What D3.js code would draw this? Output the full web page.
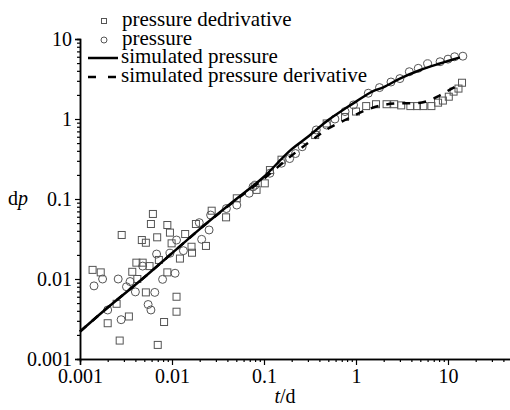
<!DOCTYPE html>
<html>
<head>
<meta charset="utf-8">
<script src="https://cdn.jsdelivr.net/npm/d3@7"></script>
<style>
  body { margin: 0; background: #fff; }
  svg text { font-family: "Liberation Serif", Tinos, "Times New Roman", Times, "DejaVu Serif", serif; fill: #000; }
</style>
</head>
<body>
<div id="chart"></div>
<script>
// simulated curves
var simTime = [0.001, 0.002, 0.005, 0.01, 0.02, 0.05, 0.1, 0.2, 0.3, 0.5, 0.8, 1, 1.5, 2, 3, 5, 8, 10, 13.5];
var simPressure = [0.0022, 0.0044, 0.0105, 0.021, 0.042, 0.1, 0.19, 0.42, 0.6, 0.97, 1.4, 1.65, 2.2, 2.5, 3.2, 4.1, 4.9, 5.3, 5.9];
var simDerivTime = [0.001, 0.002, 0.005, 0.01, 0.02, 0.05, 0.1, 0.2, 0.3, 0.5, 0.8, 1.3, 2, 3, 4.5, 6, 8, 11, 12.5];
var simDerivative = [0.0022, 0.0044, 0.0105, 0.021, 0.042, 0.098, 0.18, 0.35, 0.5, 0.76, 1.0, 1.3, 1.5, 1.57, 1.58, 1.68, 1.95, 2.4, 2.6];

// measured pressure (circles)
var presTime = [0.00142, 0.00176, 0.0026, 0.0035, 0.0032, 0.0040, 0.0065, 0.0055, 0.0059, 0.0028, 0.002,
  0.0079, 0.0108, 0.0068, 0.0095, 0.0112, 0.0133, 0.0198, 0.021, 0.0253, 0.0263, 0.0048, 0.039, 0.0506,
  0.069, 0.076, 0.08, 0.116, 0.155, 0.19, 0.22, 0.26, 0.37, 0.48, 0.59, 0.76, 0.94, 1.36, 1.8, 2.4, 3.0,
  3.8, 4.75, 6.0, 8.2, 10, 11.8, 14.5];
var presValue = [0.0082, 0.01, 0.01, 0.0093, 0.008, 0.0069, 0.0068, 0.0048, 0.0041, 0.0031, 0.0041,
  0.0099, 0.0118, 0.0205, 0.021, 0.0307, 0.0226, 0.0506, 0.0313, 0.041, 0.063, 0.0145, 0.076, 0.084,
  0.118, 0.142, 0.149, 0.21, 0.28, 0.32, 0.37, 0.45, 0.73, 0.84, 1.0, 1.24, 1.5, 2.1, 2.47, 2.9, 3.2,
  3.9, 4.3, 4.9, 5.2, 5.6, 6.0, 6.1];

// measured pressure derivative (squares)
var derivTime = [0.00137, 0.00168, 0.00284, 0.0062, 0.0059, 0.0089, 0.0095, 0.0047, 0.0052, 0.0069,
  0.0099, 0.0139, 0.0182, 0.027, 0.0387, 0.0506, 0.0122, 0.0165, 0.0163, 0.0234, 0.0072, 0.0041, 0.0048,
  0.0037, 0.0057, 0.0042, 0.0052, 0.0089, 0.0112, 0.0112, 0.0082, 0.0034, 0.002, 0.0027, 0.007, 0.0025,
  0.083, 0.102, 0.116, 0.155, 0.36, 0.48, 0.76, 1.0, 1.29, 1.65, 2.15, 2.6, 3.1, 3.9, 4.6, 5.4, 6.6,
  7.8, 8.8, 10.2, 11.5, 13, 14.2];
var derivValue = [0.013, 0.0121, 0.0355, 0.065, 0.0487, 0.0473, 0.038, 0.0307, 0.0284, 0.0332,
  0.0279, 0.0365, 0.0487, 0.0714, 0.059, 0.102, 0.018, 0.0213, 0.0253, 0.0259, 0.0173, 0.016, 0.016,
  0.0123, 0.0145, 0.01, 0.0068, 0.0121, 0.006, 0.0039, 0.0029, 0.0034, 0.0028, 0.0017, 0.0015, 0.0049,
  0.13, 0.157, 0.23, 0.31, 0.63, 0.88, 1.06, 1.24, 1.45, 1.53, 1.53, 1.53, 1.48, 1.45, 1.45, 1.45, 1.45,
  1.6, 1.7, 1.9, 2.2, 2.4, 2.84];

var xTicks = [0.001, 0.01, 0.1, 1, 10];
var xTickLabels = ["0.001", "0.01", "0.1", "1", "10"];
var yTicks = [0.001, 0.01, 0.1, 1, 10];
var yTickLabels = ["0.001", "0.01", "0.1", "1", "10"];

var legendLabels = ["pressure dedrivative", "pressure", "simulated pressure", "simulated pressure derivative"];

var width = 510, height = 410;
var serif = "'Liberation Serif', Tinos, 'Times New Roman', Times, 'DejaVu Serif', serif";

var svg = d3.select("#chart").append("svg")
    .attr("width", width)
    .attr("height", height)
    .attr("font-family", serif);

var x = d3.scaleLog().domain([0.001, 100]).range([80, 540]);
var y = d3.scaleLog().domain([0.001, 10]).range([359, 39]);

function minorTicks(scale) {
    var out = [];
    var d = scale.domain();
    for (var e = Math.round(Math.log10(d[0])); e < Math.round(Math.log10(d[1])); e++) {
        for (var k = 2; k <= 9; k++) out.push(k * Math.pow(10, e));
    }
    return out;
}

// x axis
svg.append("g")
    .attr("transform", "translate(0,359)")
    .call(d3.axisBottom(x).tickValues(minorTicks(x)).tickSize(3).tickFormat(""));
svg.append("g")
    .attr("transform", "translate(0,359)")
    .call(d3.axisBottom(x).tickValues(xTicks).tickSize(6).tickPadding(4)
        .tickFormat(function(d, i) { return xTickLabels[i]; }));

// y axis
svg.append("g")
    .attr("transform", "translate(80,0)")
    .call(d3.axisLeft(y).tickValues(minorTicks(y)).tickSize(3).tickFormat(""));
svg.append("g")
    .attr("transform", "translate(80,0)")
    .call(d3.axisLeft(y).tickValues(yTicks).tickSize(5).tickPadding(3)
        .tickFormat(function(d, i) { return yTickLabels[i]; }));

svg.selectAll("g").attr("font-family", serif);
svg.selectAll(".domain").attr("stroke", "#000").attr("stroke-width", 1.5);
svg.selectAll(".tick line").attr("stroke", "#000").attr("stroke-width", 1.2);
svg.selectAll(".tick text")
    .style("font-family", serif)
    .style("font-size", "20px")
    .attr("fill", "#000");

// axis titles
var yTitle = svg.append("text")
    .attr("x", 8)
    .attr("y", 205)
    .style("font-size", "20px");
yTitle.append("tspan").text("d");
yTitle.append("tspan").style("font-style", "italic").text("p");

var xTitle = svg.append("text")
    .attr("x", 285)
    .attr("y", 403)
    .attr("text-anchor", "middle")
    .style("font-size", "20px");
xTitle.append("tspan").style("font-style", "italic").text("t");
xTitle.append("tspan").text("/d");

// scatter
var markerColor = "#555";
var presData = presTime.map(function(t, i) { return {t: t, v: presValue[i]}; });
var derivData = derivTime.map(function(t, i) { return {t: t, v: derivValue[i]}; });

svg.append("g").selectAll("rect")
    .data(derivData)
    .enter()
    .append("rect")
    .attr("x", function(d) { return x(d.t) - 3.5; })
    .attr("y", function(d) { return y(d.v) - 3.5; })
    .attr("width", 7)
    .attr("height", 7)
    .attr("fill", "none")
    .attr("stroke", markerColor)
    .attr("stroke-width", 1);

svg.append("g").selectAll("circle")
    .data(presData)
    .enter()
    .append("circle")
    .attr("cx", function(d) { return x(d.t); })
    .attr("cy", function(d) { return y(d.v); })
    .attr("r", 4)
    .attr("fill", "none")
    .attr("stroke", markerColor)
    .attr("stroke-width", 1);

// simulated lines
var line = d3.line()
    .x(function(d) { return x(d.t); })
    .y(function(d) { return y(d.v); })
    .curve(d3.curveMonotoneX);

svg.append("path")
    .datum(simTime.map(function(t, i) { return {t: t, v: simPressure[i]}; }))
    .attr("d", line)
    .attr("fill", "none")
    .attr("stroke", "#000")
    .attr("stroke-width", 2.5);

svg.append("path")
    .datum(simDerivTime.map(function(t, i) { return {t: t, v: simDerivative[i]}; }))
    .attr("d", line)
    .attr("fill", "none")
    .attr("stroke", "#000")
    .attr("stroke-width", 2.5)
    .attr("stroke-dasharray", "8,8");

// legend
var legend = svg.append("g");
var rowY = [21, 40, 58, 77];

legend.append("rect")
    .attr("x", 101.5).attr("y", rowY[0] - 2.5)
    .attr("width", 5).attr("height", 5)
    .attr("fill", "none").attr("stroke", markerColor);
legend.append("circle")
    .attr("cx", 104).attr("cy", rowY[1]).attr("r", 3)
    .attr("fill", "none").attr("stroke", markerColor);
legend.append("line")
    .attr("x1", 88).attr("x2", 118).attr("y1", rowY[2]).attr("y2", rowY[2])
    .attr("stroke", "#000").attr("stroke-width", 2.5);
legend.append("line")
    .attr("x1", 88).attr("x2", 120).attr("y1", rowY[3]).attr("y2", rowY[3])
    .attr("stroke", "#000").attr("stroke-width", 2.5)
    .attr("stroke-dasharray", "8,12");

legend.selectAll("text.leg")
    .data(legendLabels)
    .enter()
    .append("text")
    .attr("class", "leg")
    .attr("x", function(d, i) { return i < 2 ? 122 : 121; })
    .attr("y", function(d, i) { return rowY[i] + 5; })
    .style("font-size", "21px")
    .text(function(d) { return d; });
</script>
</body>
</html>
